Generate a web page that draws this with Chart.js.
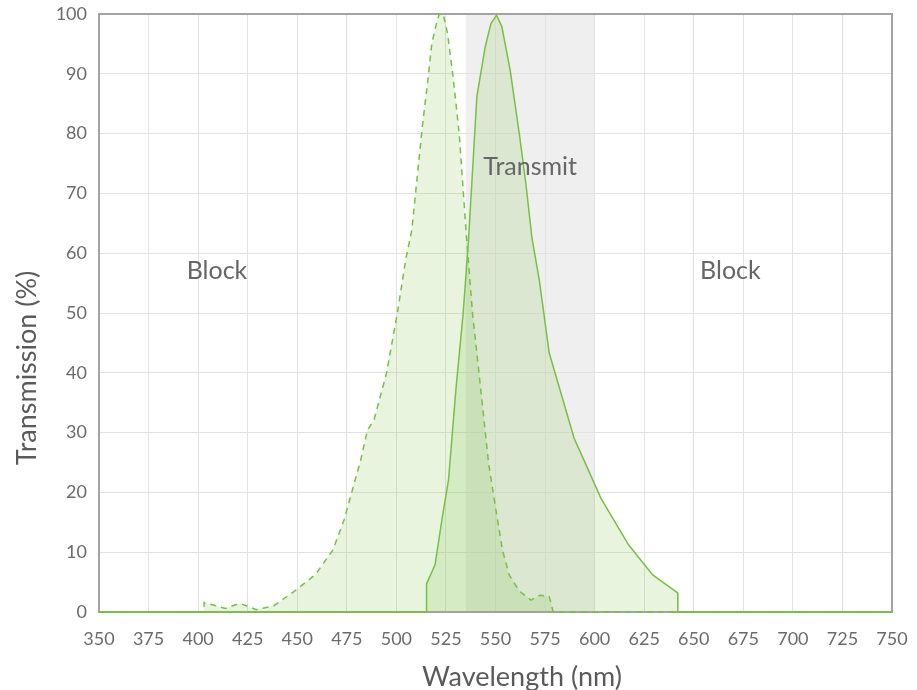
<!DOCTYPE html>
<html>
<head>
<meta charset="utf-8">
<script src="https://cdn.jsdelivr.net/npm/chart.js@4/dist/chart.umd.min.js"></script>
<style>
    html, body { margin: 0; padding: 0; background: #fff; }
    #caja { width: 917px; height: 690px; }
</style>
</head>
<body>
<div id="caja"><canvas id="filtroChart"></canvas></div>
<script>
// 1. DATOS
let excitacionNm  = [350, 402.9, 403, 413.8, 421, 429.3, 438.2, 448.3, 459.3, 468, 473.6, 477.8, 482, 485.4, 488.7, 495, 500.5, 504.7, 507.8, 513.1, 515.7, 517.9, 520.2, 521.6, 523.6, 525.8, 528.6, 531.7, 535.3, 538.4, 542.6, 546.5, 550.2, 553.5, 556.9, 562, 567.9, 572.4, 577.1, 579.1, 750];
let excitacionPct = [0, 0, 1.6, 0.6, 1.45, 0.4, 1.05, 3.4, 6.3, 10.4, 15.4, 20.4, 25.4, 30.4, 32.1, 39.9, 50, 58.9, 63.9, 81.2, 88.4, 95.1, 98.4, 100, 100, 96.8, 89.5, 80, 63, 50, 37.1, 24.9, 17.1, 10.4, 6.2, 3.5, 2.0, 2.8, 2.6, 0, 0];

let emisionNm  = [350, 515.1, 515.2, 519.5, 523.2, 526.3, 530, 533.7, 536.4, 540.6, 544.8, 547.7, 550.5, 553.2, 557.4, 562, 565.3, 568.4, 572.1, 577.1, 589.7, 595, 603.2, 617.2, 629.3, 641.9, 642, 750];
let emisionPct = [0, 0, 4.7, 7.9, 15.9, 22.1, 37.1, 50, 62.3, 86.2, 94.5, 98.4, 99.8, 97.9, 90.6, 80, 71.7, 62.5, 55.5, 43.3, 29, 25.1, 19, 11.2, 6.2, 3.2, 0, 0];

let ticksX = [350, 375, 400, 425, 450, 475, 500, 525, 550, 575, 600, 625, 650, 675, 700, 725, 750];
let ticksY = [0, 10, 20, 30, 40, 50, 60, 70, 80, 90, 100];

// banda "Transmit" y etiquetas
let bandaInicio = 535;
let bandaFin = 600;
let etiquetas = [
    { texto: 'Block', x: 409.5, y: 57 },
    { texto: 'Transmit', x: 567.5, y: 74.4 },
    { texto: 'Block', x: 668.5, y: 57 }
];
let tituloX = 'Wavelength (nm)';
let tituloY = 'Transmission (%)';

const FUENTE = 'Lato, "Open Sans", sans-serif';
const VERDE = '#76c043';
const RELLENO = 'rgba(125, 192, 70, 0.18)';

function aPuntos(xs, ys) {
    return xs.map((x, i) => ({ x: x, y: ys[i] }));
}

// 2. PLUGIN: banda gris, marco, textos y titulos
const pluginExtras = {
    id: 'extras',
    beforeDraw(chart) {
        let ctx = chart.ctx;
        let area = chart.chartArea;
        let xs = chart.scales.x;
        let x1 = xs.getPixelForValue(bandaInicio);
        let x2 = xs.getPixelForValue(bandaFin);
        ctx.save();
        ctx.fillStyle = '#efefef';
        ctx.fillRect(x1, area.top, x2 - x1, area.bottom - area.top);
        ctx.restore();
    },
    beforeDatasetsDraw(chart) {
        let ctx = chart.ctx;
        let area = chart.chartArea;
        ctx.save();
        ctx.strokeStyle = '#a3a3a3';
        ctx.lineWidth = 2;
        ctx.strokeRect(area.left, area.top, area.right - area.left, area.bottom - area.top);
        ctx.restore();
    },
    afterDatasetsDraw(chart) {
        let ctx = chart.ctx;
        ctx.save();
        ctx.font = '25px ' + FUENTE;
        ctx.fillStyle = '#666';
        ctx.textAlign = 'center';
        ctx.textBaseline = 'middle';
        etiquetas.forEach(e => {
            ctx.fillText(e.texto, chart.scales.x.getPixelForValue(e.x), chart.scales.y.getPixelForValue(e.y));
        });

        // titulos de los ejes
        ctx.font = '27px ' + FUENTE;
        ctx.fillStyle = '#5a5a5a';
        ctx.textBaseline = 'alphabetic';
        ctx.fillText(tituloX, 522, 686);
        ctx.translate(36, 368);
        ctx.rotate(-Math.PI / 2);
        ctx.fillText(tituloY, 0, 0);
        ctx.restore();
    }
};

// 3. GRAFICO
let ctx = document.getElementById('filtroChart').getContext('2d');
let miGrafico = new Chart(ctx, {
    type: 'line',
    data: {
        datasets: [
            {
                label: 'Excitation',
                data: aPuntos(excitacionNm, excitacionPct),
                borderColor: VERDE,
                backgroundColor: RELLENO,
                borderWidth: 1.5,
                borderDash: [6, 5],
                pointRadius: 0,
                fill: 'origin',
                tension: 0,
                clip: 3
            },
            {
                label: 'Emission',
                data: aPuntos(emisionNm, emisionPct),
                borderColor: VERDE,
                backgroundColor: RELLENO,
                borderWidth: 1.5,
                pointRadius: 0,
                fill: 'origin',
                tension: 0,
                clip: 3
            }
        ]
    },
    options: {
        responsive: true,
        maintainAspectRatio: false,
        animation: false,
        layout: { padding: { top: 14, right: 25, left: 0, bottom: 0 } },
        plugins: {
            legend: { display: false },
            tooltip: { enabled: false }
        },
        scales: {
            x: {
                type: 'linear',
                min: 350,
                max: 750,
                afterBuildTicks: (s) => { s.ticks = ticksX.map(v => ({ value: v })); },
                afterFit: (s) => { s.height = 78; s.paddingLeft = 0; s.paddingRight = 0; },
                ticks: { color: '#6b6b6b', font: { family: FUENTE, size: 18 }, padding: 16, maxRotation: 0 },
                grid: { color: '#e2e2e2', drawTicks: false, lineWidth: 1 },
                border: { display: false }
            },
            y: {
                min: 0,
                max: 100,
                afterBuildTicks: (s) => { s.ticks = ticksY.map(v => ({ value: v })); },
                afterFit: (s) => { s.width = 99; s.paddingTop = 0; s.paddingBottom = 0; },
                ticks: { color: '#6b6b6b', font: { family: FUENTE, size: 18 }, padding: 12 },
                grid: { color: '#e2e2e2', drawTicks: false, lineWidth: 1 },
                border: { display: false }
            }
        }
    },
    plugins: [pluginExtras]
});
</script>
</body>
</html>
